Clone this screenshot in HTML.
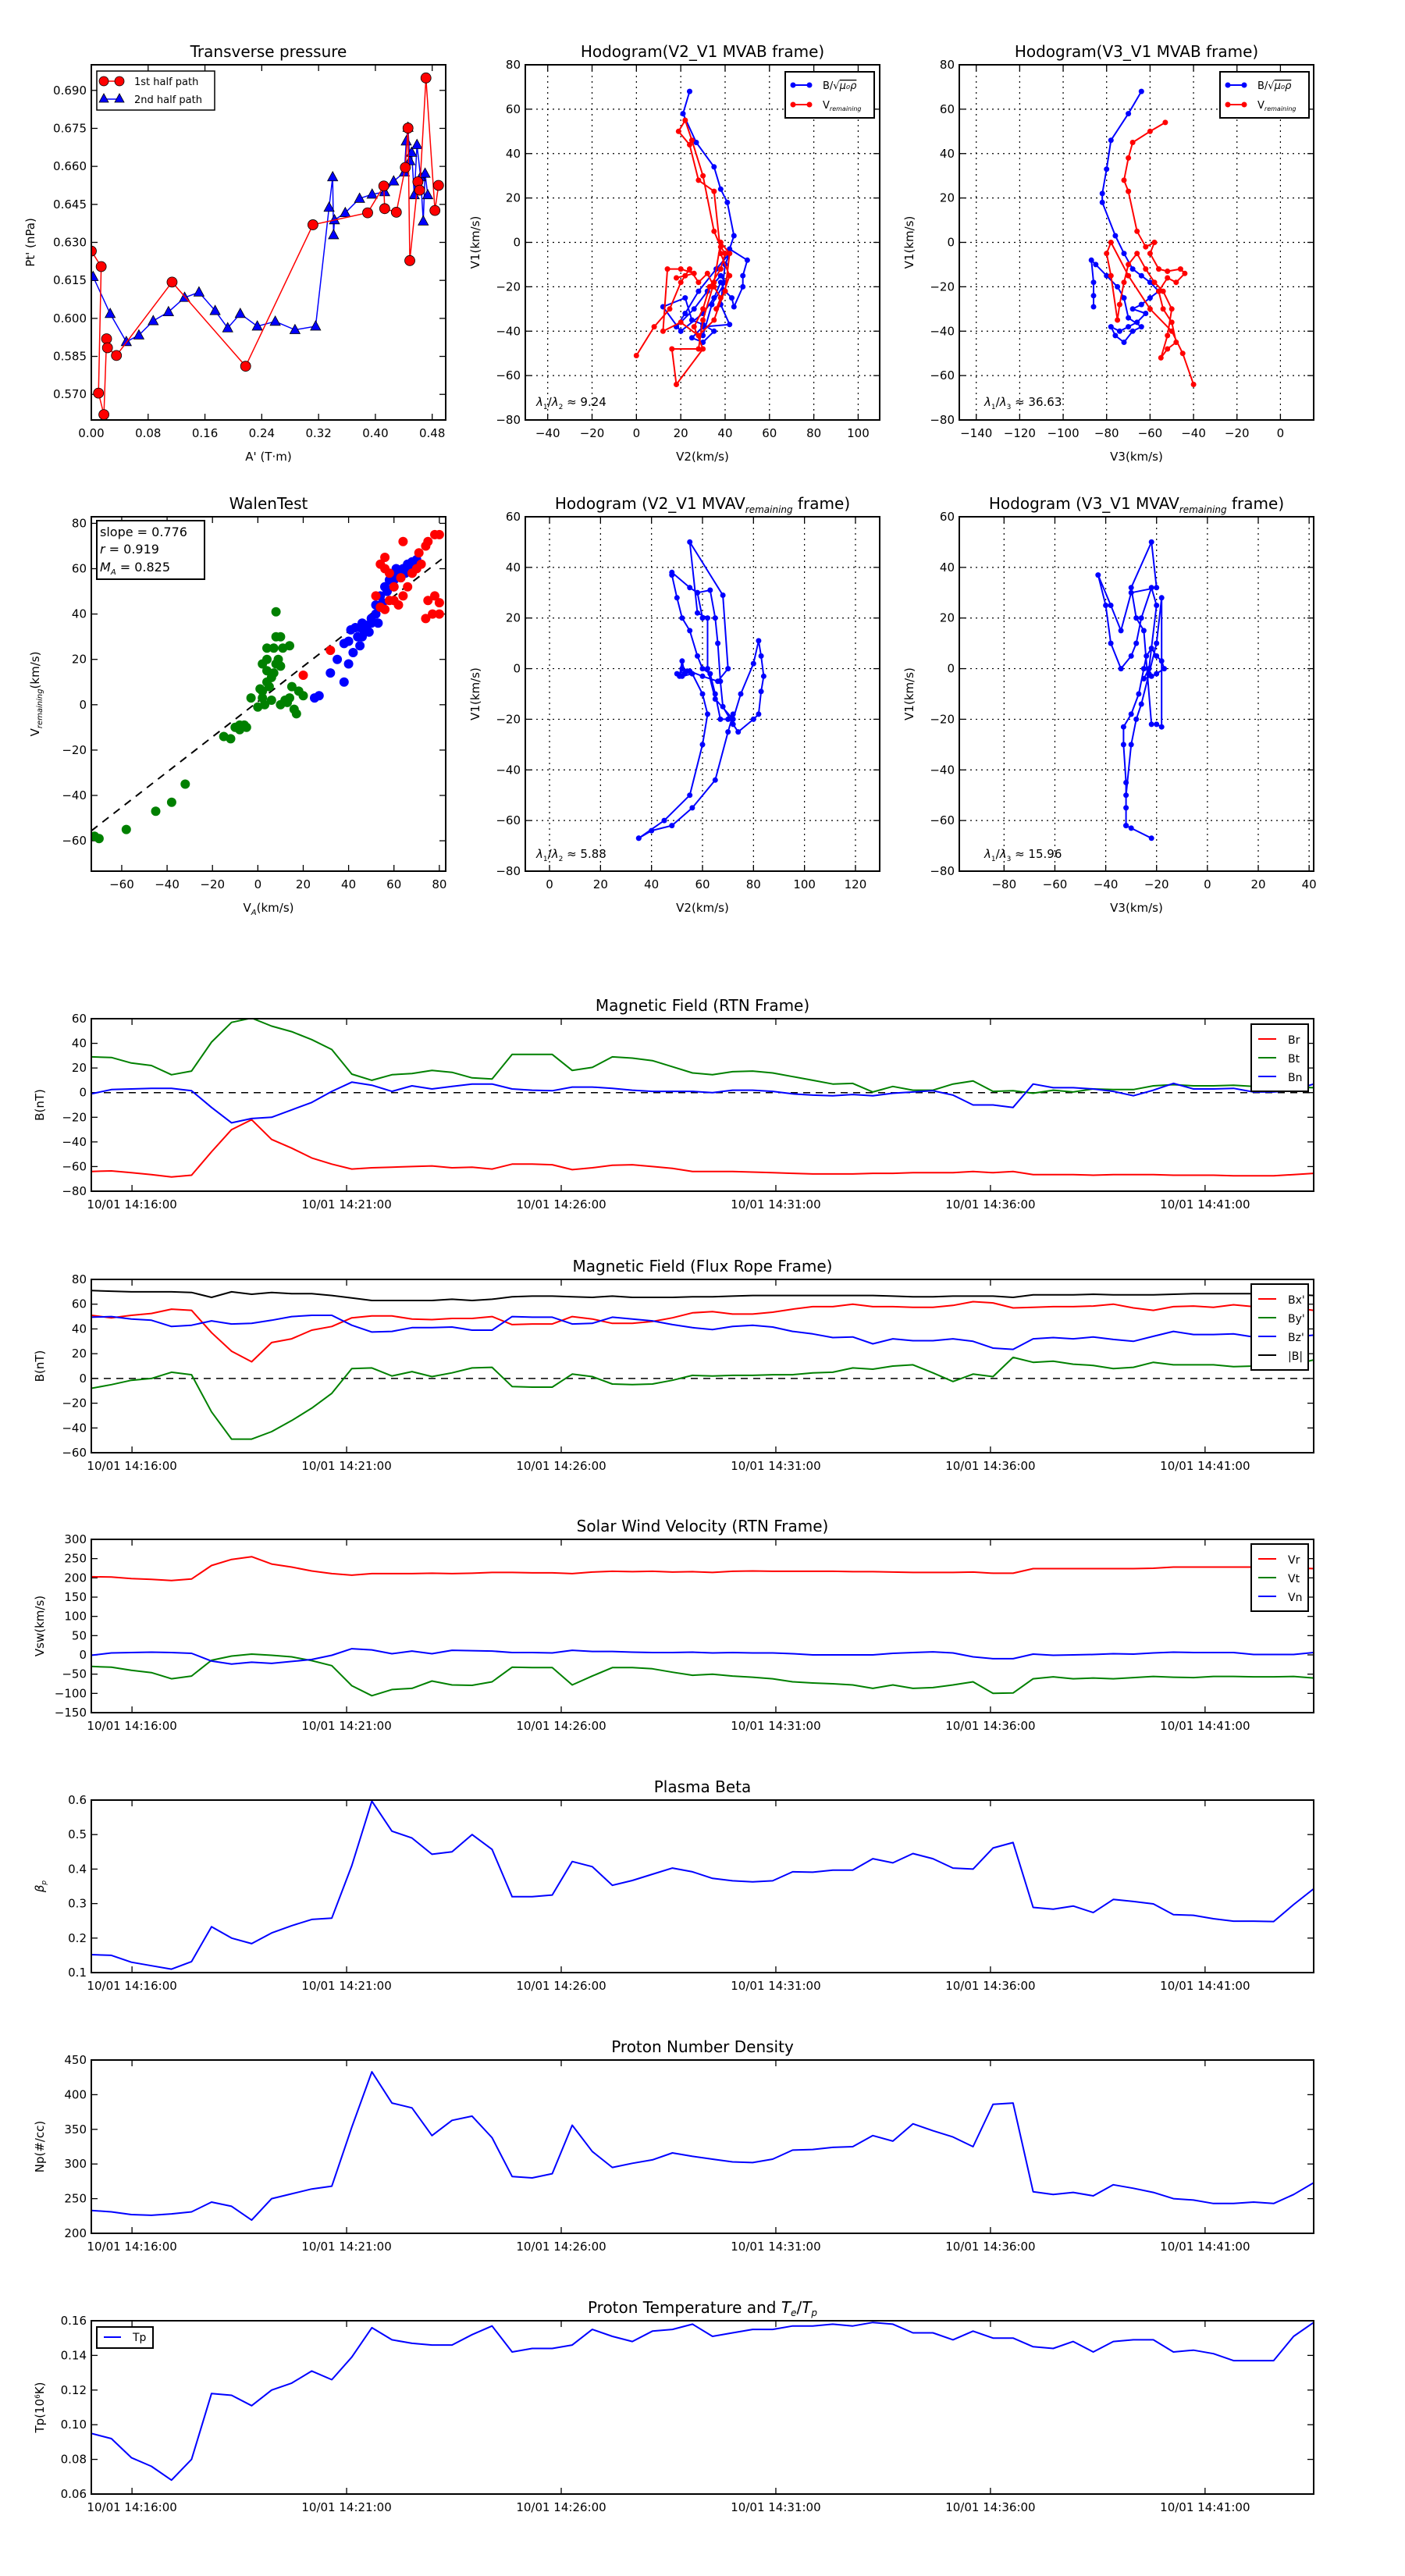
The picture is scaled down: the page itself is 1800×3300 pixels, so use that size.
<!DOCTYPE html>
<html><head><meta charset="utf-8"><style>
html,body{margin:0;padding:0;background:#fff;}
svg{display:block;font-family:"DejaVu Sans","Liberation Sans",sans-serif;}
</style></head><body>
<svg id="s" width="1800" height="3300" viewBox="0 0 1800 3300" xmlns="http://www.w3.org/2000/svg"></svg>
<script>
var out=[];
function P(s){out.push(s);}
function fmt(v,d){var s=v.toFixed(d);if(v<0)s='\u2212'+(-v).toFixed(d);return s;}
function panel(o){
  var sx=function(v){return o.x0+(v-o.xmin)/(o.xmax-o.xmin)*(o.x1-o.x0);};
  var sy=function(v){return o.y1-(v-o.ymin)/(o.ymax-o.ymin)*(o.y1-o.y0);};
  o.sx=sx;o.sy=sy;
  P('<defs><clipPath id="c'+o.id+'"><rect x="'+o.x0+'" y="'+o.y0+'" width="'+(o.x1-o.x0)+'" height="'+(o.y1-o.y0)+'"/></clipPath></defs>');
  var tl=8;
  o.xt.forEach(function(t,i){var x=sx(t[0]);
    if(o.grid)P('<line x1="'+x+'" y1="'+o.y0+'" x2="'+x+'" y2="'+o.y1+'" stroke="#000" stroke-width="1.2" stroke-dasharray="2,5"/>');
    P('<line x1="'+x+'" y1="'+o.y1+'" x2="'+x+'" y2="'+(o.y1-tl)+'" stroke="#000" stroke-width="1.3"/>');
    P('<line x1="'+x+'" y1="'+o.y0+'" x2="'+x+'" y2="'+(o.y0+tl)+'" stroke="#000" stroke-width="1.3"/>');
    P('<text x="'+x+'" y="'+(o.y1+22)+'" font-size="15" text-anchor="middle">'+t[1]+'</text>');});
  o.yt.forEach(function(t){var y=sy(t[0]);
    if(o.grid)P('<line x1="'+o.x0+'" y1="'+y+'" x2="'+o.x1+'" y2="'+y+'" stroke="#000" stroke-width="1.2" stroke-dasharray="2,5"/>');
    P('<line x1="'+o.x0+'" y1="'+y+'" x2="'+(o.x0+tl)+'" y2="'+y+'" stroke="#000" stroke-width="1.3"/>');
    P('<line x1="'+o.x1+'" y1="'+y+'" x2="'+(o.x1-tl)+'" y2="'+y+'" stroke="#000" stroke-width="1.3"/>');
    P('<text x="'+(o.x0-6)+'" y="'+(y+5)+'" font-size="15" text-anchor="end">'+t[1]+'</text>');});
  if(o.title)P('<text x="'+((o.x0+o.x1)/2)+'" y="'+(o.y0-10)+'" font-size="20" text-anchor="middle">'+o.title+'</text>');
  if(o.xlabel)P('<text x="'+((o.x0+o.x1)/2)+'" y="'+(o.y1+52)+'" font-size="15" text-anchor="middle">'+o.xlabel+'</text>');
  if(o.ylabel)P('<text transform="translate('+o.ylx+','+((o.y0+o.y1)/2)+') rotate(-90)" font-size="15" text-anchor="middle">'+o.ylabel+'</text>');
}
function frame(o){P('<rect x="'+o.x0+'" y="'+o.y0+'" width="'+(o.x1-o.x0)+'" height="'+(o.y1-o.y0)+'" fill="none" stroke="#000" stroke-width="2"/>');}
function line(o,pts,col,w,mk,r){
  var d=pts.map(function(p,i){return (i?'L':'M')+o.sx(p[0]).toFixed(1)+','+o.sy(p[1]).toFixed(1);}).join('');
  P('<path clip-path="url(#c'+o.id+')" d="'+d+'" fill="none" stroke="'+col+'" stroke-width="'+w+'" stroke-linejoin="round"/>');
  if(mk)pts.forEach(function(p){P('<circle cx="'+o.sx(p[0]).toFixed(1)+'" cy="'+o.sy(p[1]).toFixed(1)+'" r="'+r+'" fill="'+col+'"/>');});
}
function rng(a,b,s,d){var r=[];for(var v=a;v<=b+1e-9;v+=s)r.push([v,fmt(v,d)]);return r;}

/* ===== Top-left: Transverse pressure ===== */
var A={id:'a',x0:117,x1:571,y0:83,y1:538,xmin:0,xmax:0.499,ymin:0.5599,ymax:0.7001,
 xt:rng(0,0.48,0.08,2),yt:rng(0.570,0.690,0.015,3),title:'Transverse pressure',xlabel:"A' (T\u00b7m)",ylabel:"Pt' (nPa)",ylx:44};
panel(A);
function dA(xd,yd){return [117+(xd-102)*(454/395),83+(yd-108)*(455/595)];}
var red=[[102,420],[113,446],[110,658],[116,694],[119,567],[120,582],[130,595],[192,472],[274,613],[349,376],[410,356],[428,311],[429,349],[442,355],[452,280],[455,214],[457,436],[466,304],[468,318],[475,130],[485,352],[489,310]];
var blu=[[104,463],[123,525],[141,572],[155,561],[171,537],[188,522],[206,498],[222,489],[240,520],[254,549],[268,525],[287,546],[307,538],[329,552],[352,546],[367,347],[371,296],[372,393],[373,368],[385,356],[401,332],[415,325],[429,321],[439,303],[451,288],[453,236],[455,213],[457,269],[459,255],[462,326],[465,242],[469,296],[472,370],[474,290],[477,326]];
P('<g clip-path="url(#ca)">');
P('<path d="'+blu.map(function(p,i){var q=dA(p[0],p[1]);return (i?'L':'M')+q[0]+','+q[1];}).join('')+'" fill="none" stroke="#0000ff" stroke-width="1.5"/>');
blu.forEach(function(p){var q=dA(p[0],p[1]);P('<polygon points="'+q[0]+','+(q[1]-7)+' '+(q[0]-6.5)+','+(q[1]+5)+' '+(q[0]+6.5)+','+(q[1]+5)+'" fill="#0000ff" stroke="#000" stroke-width="0.8"/>');});
P('<path d="'+red.map(function(p,i){var q=dA(p[0],p[1]);return (i?'L':'M')+q[0]+','+q[1];}).join('')+'" fill="none" stroke="#ff0000" stroke-width="1.5"/>');
red.forEach(function(p){var q=dA(p[0],p[1]);P('<circle cx="'+q[0]+'" cy="'+q[1]+'" r="6.5" fill="#ff0000" stroke="#000" stroke-width="0.8"/>');});
P('</g>');
frame(A);
P('<rect x="124" y="91" width="151" height="50" fill="#fff" stroke="#000" stroke-width="1.5"/>');
P('<line x1="131" y1="104" x2="155" y2="104" stroke="#f00" stroke-width="1.5"/><circle cx="133" cy="104" r="6" fill="#f00" stroke="#000" stroke-width="0.8"/><circle cx="153" cy="104" r="6" fill="#f00" stroke="#000" stroke-width="0.8"/>');
P('<text x="172" y="109" font-size="13">1st half path</text>');
P('<line x1="131" y1="127" x2="155" y2="127" stroke="#00f" stroke-width="1.5"/><polygon points="133,120 127,131 139,131" fill="#00f" stroke="#000" stroke-width="0.8"/><polygon points="153,120 147,131 159,131" fill="#00f" stroke="#000" stroke-width="0.8"/>');
P('<text x="172" y="132" font-size="13">2nd half path</text>');

/* ===== Hodogram legend helper ===== */
function hlegend(x,y){
 P('<rect x="'+x+'" y="'+y+'" width="114" height="59" fill="#fff" stroke="#000" stroke-width="2"/>');
 P('<line x1="'+(x+10)+'" y1="'+(y+17)+'" x2="'+(x+31)+'" y2="'+(y+17)+'" stroke="#00f" stroke-width="2"/><circle cx="'+(x+10)+'" cy="'+(y+17)+'" r="3.5" fill="#00f"/><circle cx="'+(x+31)+'" cy="'+(y+17)+'" r="3.5" fill="#00f"/>');
 P('<text x="'+(x+48)+'" y="'+(y+22)+'" font-size="13">B/\u221a<tspan font-style="italic" text-decoration="overline">\u03bc\u2080\u03c1</tspan></text>');
 P('<line x1="'+(x+10)+'" y1="'+(y+42)+'" x2="'+(x+31)+'" y2="'+(y+42)+'" stroke="#f00" stroke-width="2"/><circle cx="'+(x+10)+'" cy="'+(y+42)+'" r="3.5" fill="#f00"/><circle cx="'+(x+31)+'" cy="'+(y+42)+'" r="3.5" fill="#f00"/>');
 P('<text x="'+(x+48)+'" y="'+(y+47)+'" font-size="13">V<tspan font-size="8" font-style="italic" dy="3">remaining</tspan></text>');
}
function lam(x,y,sub,val){P('<text x="'+x+'" y="'+y+'" font-size="15"><tspan font-style="italic">\u03bb</tspan><tspan font-size="9" dy="4">1</tspan><tspan dy="-4">/</tspan><tspan font-style="italic">\u03bb</tspan><tspan font-size="9" dy="4">'+sub+'</tspan><tspan dy="-4"> \u2248 '+val+'</tspan></text>');}

/* ===== Hodogram V2_V1 MVAB ===== */
var B={id:'b',x0:673,x1:1127,y0:83,y1:538,xmin:-50.1,xmax:109.7,ymin:-80,ymax:80,grid:1,
 xt:rng(-40,100,20,0),yt:rng(-80,80,20,0),title:'Hodogram(V2_V1 MVAB frame)',xlabel:'V2(km/s)',ylabel:'V1(km/s)',ylx:614};
panel(B);
line(B,[[24,68],[21,58],[27,45],[35,34],[38,24],[41,18],[44,3],[42,-3],[50,-8],[48,-15],[48,-20],[44,-29],[43,-25],[40,-22],[38,-18],[35,-25],[30,-32],[20,-40],[12,-29],[22,-25],[25,-35],[30,-37],[35,-40],[30,-45],[25,-43],[30,-38],[42,-37],[38,-28],[40,-10],[42,-5],[36,-12],[28,-22],[22,-32],[18,-38],[26,-30],[32,-22],[38,-15],[40,-18],[34,-28],[30,-42]],'#0000ff',2,1,3.5);
line(B,[[0,-51],[8,-38],[15,-30],[20,-18],[22,-15],[24,-12],[28,-18],[32,-14],[35,-20],[38,-25],[36,-30],[40,-22],[42,-5],[38,0],[35,-18],[30,-35],[28,-48],[16,-48],[18,-64],[30,-48],[26,-38],[30,-30],[33,-20],[38,-12],[40,-5],[38,-2],[35,5],[30,30],[25,46],[22,55],[19,50],[24,44],[28,28],[35,23],[38,-5],[42,-15],[35,-35],[28,-42],[20,-36],[12,-40],[14,-12],[20,-12],[26,-14],[18,-16]],'#ff0000',2,1,3.5);
frame(B);hlegend(1006,92);lam(687,520,'2','9.24');

/* ===== Hodogram V3_V1 MVAB ===== */
var C={id:'c',x0:1229,x1:1683,y0:83,y1:538,xmin:-147.8,xmax:15.3,ymin:-80,ymax:80,grid:1,
 xt:rng(-140,0,20,0),yt:rng(-80,80,20,0),title:'Hodogram(V3_V1 MVAB frame)',xlabel:'V3(km/s)',ylabel:'V1(km/s)',ylx:1170};
panel(C);
line(C,[[-64,68],[-70,58],[-78,46],[-80,33],[-82,22],[-82,18],[-76,3],[-72,-5],[-68,-12],[-64,-15],[-60,-18],[-56,-22],[-60,-25],[-64,-28],[-68,-30],[-62,-32],[-66,-36],[-70,-38],[-74,-40],[-78,-38],[-76,-42],[-72,-45],[-68,-40],[-64,-38],[-70,-34],[-72,-25],[-75,-20],[-80,-15],[-85,-10],[-87,-8],[-86,-18],[-86,-24],[-86,-29]],'#0000ff',2,1,3.5);
line(C,[[-53,54],[-60,50],[-68,45],[-70,38],[-72,28],[-70,23],[-66,5],[-62,-2],[-58,0],[-60,-5],[-56,-12],[-52,-13],[-46,-12],[-44,-14],[-48,-18],[-52,-16],[-56,-22],[-54,-30],[-50,-36],[-48,-45],[-52,-48],[-55,-52],[-52,-42],[-50,-30],[-54,-22],[-58,-18],[-62,-12],[-66,-5],[-70,-10],[-72,-18],[-74,-28],[-75,-35],[-78,-15],[-80,-5],[-78,0],[-70,-15],[-60,-30],[-50,-40],[-45,-50],[-40,-64]],'#ff0000',2,1,3.5);
frame(C);hlegend(1563,92);lam(1261,520,'3','36.63');

/* ===== Walen test ===== */
var W={id:'w',x0:117,x1:571,y0:662,y1:1116,xmin:-73.4,xmax:82.8,ymin:-73.4,ymax:82.9,
 xt:rng(-60,80,20,0),yt:rng(-60,80,20,0),title:'WalenTest',xlabel:'V<tspan font-size="10" font-style="italic" dy="4">A</tspan><tspan dy="-4">(km/s)</tspan>',ylabel:'V<tspan font-size="10" font-style="italic" dy="4">remaining</tspan><tspan dy="-4">(km/s)</tspan>',ylx:50};
panel(W);
P('<line clip-path="url(#cw)" x1="'+W.sx(-73.4)+'" y1="'+W.sy(-55.6)+'" x2="'+W.sx(82.8)+'" y2="'+W.sy(65.6)+'" stroke="#000" stroke-width="2" stroke-dasharray="10,8"/>');
function dots(o,pts,col){pts.forEach(function(p){P('<circle clip-path="url(#c'+o.id+')" cx="'+o.sx(p[0]).toFixed(1)+'" cy="'+o.sy(p[1]).toFixed(1)+'" r="6" fill="'+col+'"/>');});}
dots(W,[[-72,-58],[-70,-59],[-58,-55],[-45,-47],[-38,-43],[-32,-35],[-15,-14],[-12,-15],[-10,-10],[-8,-9],[-6,-9],[-8,-11],[-5,-10],[0,-1],[2,3],[3,0],[2,6],[5,8],[4,10],[6,12],[7,14],[2,18],[4,20],[7,25],[8,30],[10,30],[4,25],[8,18],[10,17],[8,41],[11,25],[14,26],[10,0],[12,2],[14,3],[16,-2],[17,-4],[18,6],[15,8],[20,4],[13,1],[6,2],[4,15],[9,20],[-3,3],[1,7]],'#008000');
dots(W,[[25,3],[27,4],[32,14],[38,10],[35,20],[40,18],[42,23],[45,26],[46,30],[48,33],[50,36],[52,40],[55,45],[57,50],[60,55],[62,58],[64,60],[66,62],[68,63],[58,55],[56,52],[54,48],[50,38],[47,32],[44,30],[40,28],[38,27],[43,34],[46,36],[49,32],[52,44],[56,52],[60,52],[63,56],[65,58],[69,61],[70,64],[41,33],[45,34],[48,35],[53,36],[59,57],[61,60],[67,60],[71,62]],'#0000ff');
dots(W,[[20,13],[32,24],[52,48],[54,43],[56,42],[58,46],[60,52],[54,62],[56,65],[56,60],[58,58],[60,46],[62,44],[64,48],[66,52],[68,58],[70,60],[72,62],[74,70],[75,72],[78,75],[80,75],[75,46],[78,48],[80,45],[77,40],[80,40],[74,38],[64,72],[68,58],[63,56],[71,67]],'#ff0000');
frame(W);
P('<rect x="124" y="667" width="138" height="75" fill="#fff" stroke="#000" stroke-width="2"/>');
P('<text x="128" y="687" font-size="16">slope = 0.776</text>');
P('<text x="128" y="709" font-size="16"><tspan font-style="italic">r</tspan> = 0.919</text>');
P('<text x="128" y="732" font-size="16"><tspan font-style="italic">M</tspan><tspan font-size="10" font-style="italic" dy="4">A</tspan><tspan dy="-4"> = 0.825</tspan></text>');

/* ===== MVAV V2 ===== */
var D={id:'d',x0:673,x1:1127,y0:662,y1:1116,xmin:-9.5,xmax:129.5,ymin:-80,ymax:60,grid:1,
 xt:rng(0,120,20,0),yt:rng(-80,60,20,0),title:'Hodogram (V2_V1 MVAV<tspan font-size="12" font-style="italic" dy="5">remaining</tspan><tspan dy="-5"> frame)</tspan>',xlabel:'V2(km/s)',ylabel:'V1(km/s)',ylx:614};
panel(D);
line(D,[[35,-67],[40,-64],[48,-62],[56,-55],[65,-44],[70,-25],[72,-18],[70,-20],[67,-20],[65,-10],[63,-2],[60,0],[58,5],[55,15],[52,20],[50,28],[48,37],[48,38],[55,32],[58,30],[60,20],[58,30],[63,31],[65,20],[66,10],[67,-5],[68,-15],[72,-22],[74,-25],[80,-20],[82,-18],[83,-9],[84,-3],[83,5],[82,11],[80,2],[75,-10],[72,-20],[65,-12],[62,0],[62,20],[58,22],[55,50],[68,29],[70,0],[66,-5],[60,-3],[55,-1],[52,0],[51,-3],[52,3],[53,-2],[54,-1],[50,-2],[52,-3],[56,-2],[60,-10],[62,-18],[60,-30],[55,-50],[45,-60],[35,-67]],'#0000ff',2,1,3.5);
frame(D);lam(687,1099,'2','5.88');

/* ===== MVAV V3 ===== */
var E={id:'e',x0:1229,x1:1683,y0:662,y1:1116,xmin:-97.6,xmax:41.8,ymin:-80,ymax:60,grid:1,
 xt:rng(-80,40,20,0),yt:rng(-80,60,20,0),title:'Hodogram (V3_V1 MVAV<tspan font-size="12" font-style="italic" dy="5">remaining</tspan><tspan dy="-5"> frame)</tspan>',xlabel:'V3(km/s)',ylabel:'V1(km/s)',ylx:1170};
panel(E);
line(E,[[-22,-67],[-30,-63],[-32,-62],[-32,-55],[-32,-45],[-33,-30],[-33,-23],[-30,-18],[-27,-10],[-25,0],[-24,5],[-22,8],[-20,5],[-18,3],[-17,0],[-20,-2],[-22,-3],[-25,-4],[-23,0],[-20,25],[-22,32],[-26,20],[-28,10],[-30,5],[-34,0],[-38,10],[-40,25],[-43,37],[-38,25],[-34,15],[-30,30],[-20,32],[-22,50],[-30,32],[-28,20],[-25,15],[-22,-22],[-20,-22],[-18,-23],[-18,28],[-20,10],[-23,-2],[-26,-14],[-28,-20],[-30,-30],[-32,-50],[-32,-62]],'#0000ff',2,1,3.5);
frame(E);lam(1261,1099,'3','15.96');

/* ===== Time series ===== */
var TT=['10/01 14:16:00','10/01 14:21:00','10/01 14:26:00','10/01 14:31:00','10/01 14:36:00','10/01 14:41:00'];
var txt=TT.map(function(s,k){return [2.03+k*10.71,s];});
function ts(id,y0,y1,ymin,ymax,yt,title,ylabel){var o={id:id,x0:117,x1:1683,y0:y0,y1:y1,xmin:0,xmax:61,ymin:ymin,ymax:ymax,xt:txt,yt:yt,title:title,ylabel:ylabel,ylx:56};panel(o);return o;}
function ser(o,v,col){line(o,v.map(function(y,i){return [i,y];}),col,2,0,0);}
function zero(o){P('<line x1="117" y1="'+o.sy(0)+'" x2="1683" y2="'+o.sy(0)+'" stroke="#000" stroke-width="1.5" stroke-dasharray="9,7"/>');}
function leg(x,y,items){var h=items.length*24+14;P('<rect x="'+x+'" y="'+y+'" width="73" height="'+h+'" fill="#fff" stroke="#000" stroke-width="2"/>');
 items.forEach(function(it,i){var yy=y+19+i*24;P('<line x1="'+(x+9)+'" y1="'+yy+'" x2="'+(x+32)+'" y2="'+yy+'" stroke="'+it[1]+'" stroke-width="2"/><text x="'+(x+47)+'" y="'+(yy+6)+'" font-size="14">'+it[0]+'</text>');});}

var R=ts('r',1305,1526,-80,60,rng(-80,60,20,0),'Magnetic Field (RTN Frame)','B(nT)');
zero(R);
ser(R,[-64,-63.5,-65,-66.5,-68.5,-67,-48,-30,-22,-38,-45,-53,-58,-62,-61,-60.5,-60,-59.5,-61,-60.5,-62,-58,-58,-58.5,-62.5,-61,-59,-58.5,-60,-61.5,-64,-64,-64,-64.5,-65,-65.5,-66,-66,-66,-65.5,-65.5,-65,-65,-65,-64,-65,-64,-66.5,-66.5,-66.5,-67,-66.5,-66.5,-66.5,-67,-67,-67,-67.5,-67.5,-67.5,-66.5,-65.5],'#ff0000');
ser(R,[29,28.5,24,22,14.5,17.5,41,57,60.5,54,49.5,43,35,15,10,14.5,15.5,18,16.5,12,11,31,31,31,18,20.5,29,28,26,21,16,14.5,17,17.5,16,13,10,7,7.5,0.5,5,2,2,7,9.5,1,1.5,-0.5,2,0.5,3,2.5,2.5,5.5,6.5,5.5,5.5,6,5,4.5,4.5,4],'#008000');
ser(R,[-1,2.5,3,3.5,3.5,1.5,-12,-24.5,-21,-20,-14,-8,1,8.5,6,1,5.5,3,5,7,7,3,2,1.5,4.5,4.5,3.5,2,1,1,1,0,2,2,1,-1,-2,-2.5,-1.5,-2.5,-0.5,0.5,1.5,-2,-10,-10,-12,7,4,4,3,1,-2.5,2,7.5,3,3,3.5,0.5,0.5,2,7],'#0000ff');
frame(R);leg(1603,1312,[['Br','#f00'],['Bt','#008000'],['Bn','#00f']]);

var F=ts('f',1639,1861,-60,80,rng(-60,80,20,0),'Magnetic Field (Flux Rope Frame)','B(nT)');
zero(F);
ser(F,[71,70.5,70,70,70,69.5,65.5,70,68,69.5,68.5,68.5,67,65,63,63,63,63,64,63,64,66,66.5,66.5,66,65.5,66.5,65.5,65.5,65.5,66,66,66.5,67,67,67,67,67,67,67,66.5,66,66,66.5,66.5,66.5,65.5,67.5,67.5,67.5,68,67.5,67.5,67.5,68,68.5,68.5,68.5,68.5,68.5,68,67],'#000000');
ser(F,[51,49,51,52.5,56,55,37,22,13.5,29,32,39,42,49,50.5,50.5,48,47.5,48.5,48.5,50,43.5,44,44,50,48,44.5,44.5,46,49,53,54,52,52,53.5,56,58,58,60,58,58,57.5,57.5,59,62,61,57,57.5,58,58,58.5,60,57,55,58,58.5,57.5,59.5,58,58,57,55],'#ff0000');
ser(F,[-8,-5,-1.5,0,5,3,-27,-49,-49,-43,-34,-24,-12,8,8.5,2,5.5,1.5,4.5,8.5,9,-6.5,-7,-7,3.5,1.5,-4.5,-5,-4.5,-1.5,2.5,2,2.5,2.5,3,3,4.5,5,8.5,7.5,10,11,4.5,-2.5,3.5,1.5,17,13,14,11.5,10.5,8,9,13,11,11,11,9.5,10,10.5,11,15],'#008000');
ser(F,[49.5,50,48,47,42,43,46.5,44,44.5,47,50,51,51,43,37.5,38,41,41,41.5,39,39,50,49.5,49.5,44,44.5,49.5,48,46.5,43.5,41,39.5,42,43,41.5,38,36,33,33.5,28,32,30.5,30.5,32,30,24.5,23.5,32,33,32,33.5,31.5,30,34,38,35.5,35.5,36,33.5,33,33.5,35],'#0000ff');
frame(F);leg(1603,1645,[["Bx'",'#f00'],["By'",'#008000'],["Bz'",'#00f'],['|B|','#000']]);

var V=ts('v',1972,2194,-150,300,rng(-150,300,50,0),'Solar Wind Velocity (RTN Frame)','Vsw(km/s)');
ser(V,[203,202,198,196,193,197,232,248,255,236,228,218,211,207,211,211,211,212,211,212,214,214,213,213,211,215,217,216,217,215,216,214,217,218,217,217,217,217,216,216,215,214,214,214,215,212,212,224,224,224,224,224,224,225,228,228,228,228,228,228,226,224],'#ff0000');
ser(V,[-30,-32,-40,-46,-62,-55,-14,-3,2,-1,-5,-15,-28,-80,-106,-90,-87,-68,-78,-79,-70,-32,-33,-33,-78,-55,-33,-33,-36,-45,-53,-50,-55,-58,-62,-70,-73,-75,-78,-87,-78,-87,-85,-78,-70,-100,-99,-62,-57,-62,-60,-62,-59,-56,-58,-59,-56,-56,-57,-57,-56,-60],'#008000');
ser(V,[-1,5,6,7,6,4,-16,-24,-19,-22,-17,-12,-1,16,13,3,10,3,12,11,10,6,6,5,12,9,9,7,6,6,7,5,6,5,5,3,0,0,0,0,4,6,8,5,-5,-10,-10,2,-1,0,1,3,2,5,7,6,6,6,1,1,1,6],'#0000ff');
frame(V);leg(1603,1978,[['Vr','#f00'],['Vt','#008000'],['Vn','#00f']]);

var Bt=ts('bt',2306,2527,0.1,0.6,rng(0.1,0.6,0.1,1),'Plasma Beta','<tspan font-style="italic">\u03b2</tspan><tspan font-size="9" font-style="italic" dy="3">p</tspan>');
ser(Bt,[0.152,0.150,0.130,0.12,0.11,0.132,0.233,0.2,0.184,0.215,0.236,0.254,0.258,0.41,0.597,0.51,0.49,0.443,0.45,0.5,0.457,0.32,0.32,0.325,0.422,0.407,0.353,0.367,0.385,0.403,0.392,0.373,0.366,0.363,0.366,0.392,0.391,0.397,0.397,0.43,0.418,0.445,0.43,0.403,0.4,0.461,0.477,0.289,0.284,0.293,0.274,0.312,0.306,0.299,0.268,0.266,0.256,0.249,0.249,0.248,0.297,0.343],'#0000ff');
frame(Bt);

var N=ts('n',2639,2861,200,450,rng(200,450,50,0),'Proton Number Density','Np(#/cc)');
ser(N,[233,231,227,226,228,231,245,239,219,250,257,264,268,353,433,388,381,341,363,369,338,282,280,286,356,318,295,301,306,316,311,307,303,302,307,320,321,324,325,341,333,358,348,339,325,386,388,260,256,259,254,270,265,259,250,248,243,243,245,243,256,273],'#0000ff');
frame(N);

var T=ts('t',2973,3195,0.06,0.16,rng(0.06,0.16,0.02,2),'Proton Temperature and <tspan font-style="italic">T</tspan><tspan font-size="12" font-style="italic" dy="4">e</tspan><tspan dy="-4">/</tspan><tspan font-style="italic">T</tspan><tspan font-size="12" font-style="italic" dy="4">p</tspan>','Tp(10<tspan font-size="9" dy="-5">6</tspan><tspan dy="5">K)</tspan>');
ser(T,[0.095,0.092,0.081,0.076,0.068,0.080,0.118,0.117,0.111,0.120,0.124,0.131,0.126,0.139,0.156,0.149,0.147,0.146,0.146,0.152,0.157,0.142,0.144,0.144,0.146,0.155,0.151,0.148,0.154,0.155,0.158,0.151,0.153,0.155,0.155,0.157,0.157,0.158,0.157,0.159,0.158,0.153,0.153,0.149,0.154,0.150,0.150,0.145,0.144,0.148,0.142,0.148,0.149,0.149,0.142,0.143,0.141,0.137,0.137,0.137,0.151,0.159],'#0000ff');
frame(T);
P('<rect x="124" y="2981" width="72" height="27" fill="#fff" stroke="#000" stroke-width="2"/><line x1="133" y1="2994" x2="155" y2="2994" stroke="#00f" stroke-width="2"/><text x="170" y="2999" font-size="14">Tp</text>');

document.getElementById('s').innerHTML=out.join('');
</script>
</body></html>
